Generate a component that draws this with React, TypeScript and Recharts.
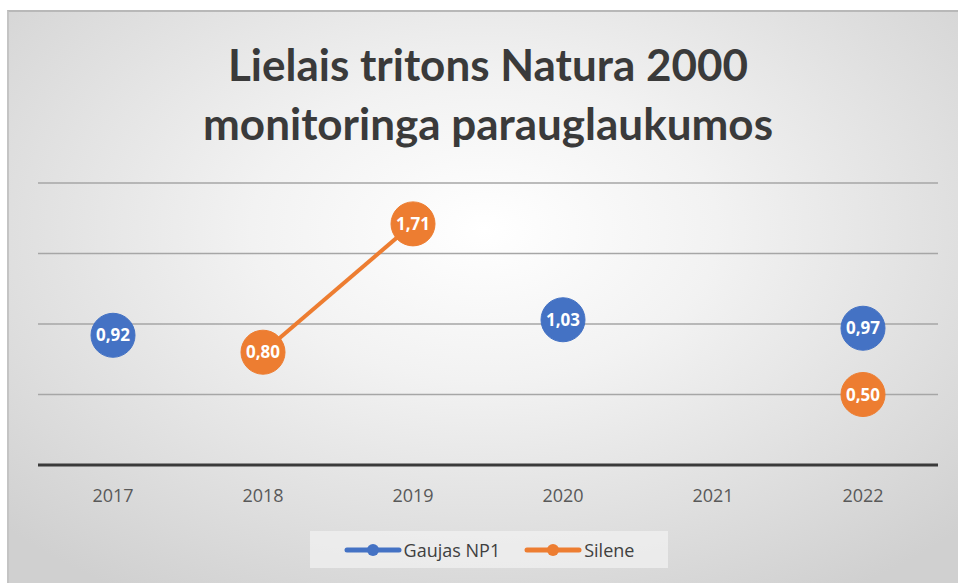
import { LineChart, Line, XAxis, YAxis, CartesianGrid, LabelList } from 'recharts';

const years = ['2017', '2018', '2019', '2020', '2021', '2022'];
const gaujas: (number | null)[] = [0.92, null, null, 1.03, null, 0.97];
const silene: (number | null)[] = [null, 0.8, 1.71, null, null, 0.5];
const yTicks = [0, 0.5, 1, 1.5, 2];

const BLUE = '#4472c4';
const ORANGE = '#ed7d31';

const data = years.map((year, i) => ({ year, gaujas: gaujas[i], silene: silene[i] }));

const fmt = (v: unknown) => (typeof v === 'number' ? v.toFixed(2).replace('.', ',') : '');

function LegendItem({ color, label }: { color: string; label: string }) {
  return (
    <div style={{ display: 'flex', alignItems: 'center', gap: 2 }}>
      <svg width={58} height={14}>
        <line x1={3} y1={7} x2={55} y2={7} stroke={color} strokeWidth={5} strokeLinecap="round" />
        <circle cx={29} cy={7} r={6} fill={color} />
      </svg>
      <span>{label}</span>
    </div>
  );
}

export default function App() {
  return (
    <div style={{ position: 'absolute', left: 0, top: 0, width: 958, height: 583, background: '#fff' }}>
      <div
        style={{
          position: 'absolute',
          left: 7,
          top: 10,
          width: 951,
          height: 573,
          borderTop: '2px solid #b8b8b8',
          borderLeft: '2px solid #c4c4c4',
          background: 'radial-gradient(ellipse 70% 75% at 50% 38%, #ffffff 0%, #f2f2f2 35%, #d0d0d0 100%)',
        }}
      />
      <div
        style={{
          position: 'absolute',
          left: 0,
          top: 35,
          width: 976,
          textAlign: 'center',
          fontFamily: 'Lato, sans-serif',
          fontWeight: 700,
          fontSize: 44,
          lineHeight: '59px',
          color: '#3a3a3a',
        }}
      >
        Lielais tritons Natura 2000
        <br />
        monitoringa parauglaukumos
      </div>
      <div style={{ position: 'absolute', left: 0, top: 0 }}>
        <LineChart width={958} height={583} data={data} margin={{ top: 183, right: 20, bottom: 78, left: 38 }}>
          <CartesianGrid vertical={false} stroke="#a6a6a6" strokeWidth={1.5} />
          <YAxis hide domain={[0, 2]} ticks={yTicks} />
          <XAxis
            dataKey="year"
            height={40}
            padding={{ left: 75, right: 75 }}
            tickLine={false}
            axisLine={{ stroke: '#3a3a3a', strokeWidth: 3 }}
            tick={{ fill: '#595959', fontSize: 18, fontFamily: 'Open Sans, sans-serif' }}
            tickMargin={18}
          />
          <Line
            dataKey="gaujas"
            stroke={BLUE}
            strokeWidth={4}
            dot={{ r: 22, fill: BLUE, stroke: BLUE, strokeWidth: 1 }}
            isAnimationActive={false}
          >
            <LabelList
              dataKey="gaujas"
              position="center"
              formatter={fmt}
              fill="#fff"
              fontSize={17}
              fontWeight={700}
              fontFamily="Open Sans, sans-serif"
            />
          </Line>
          <Line
            dataKey="silene"
            stroke={ORANGE}
            strokeWidth={4}
            dot={{ r: 22, fill: ORANGE, stroke: ORANGE, strokeWidth: 1 }}
            isAnimationActive={false}
          >
            <LabelList
              dataKey="silene"
              position="center"
              formatter={fmt}
              fill="#fff"
              fontSize={17}
              fontWeight={700}
              fontFamily="Open Sans, sans-serif"
            />
          </Line>
        </LineChart>
      </div>
      <div
        style={{
          position: 'absolute',
          left: 310,
          top: 531,
          width: 358,
          height: 37,
          background: 'rgba(242,242,242,0.7)',
          display: 'flex',
          alignItems: 'center',
          justifyContent: 'center',
          gap: 24,
          fontFamily: 'Open Sans, sans-serif',
          fontSize: 18,
          color: '#404040',
        }}
      >
        <LegendItem color={BLUE} label="Gaujas NP1" />
        <LegendItem color={ORANGE} label="Silene" />
      </div>
    </div>
  );
}
